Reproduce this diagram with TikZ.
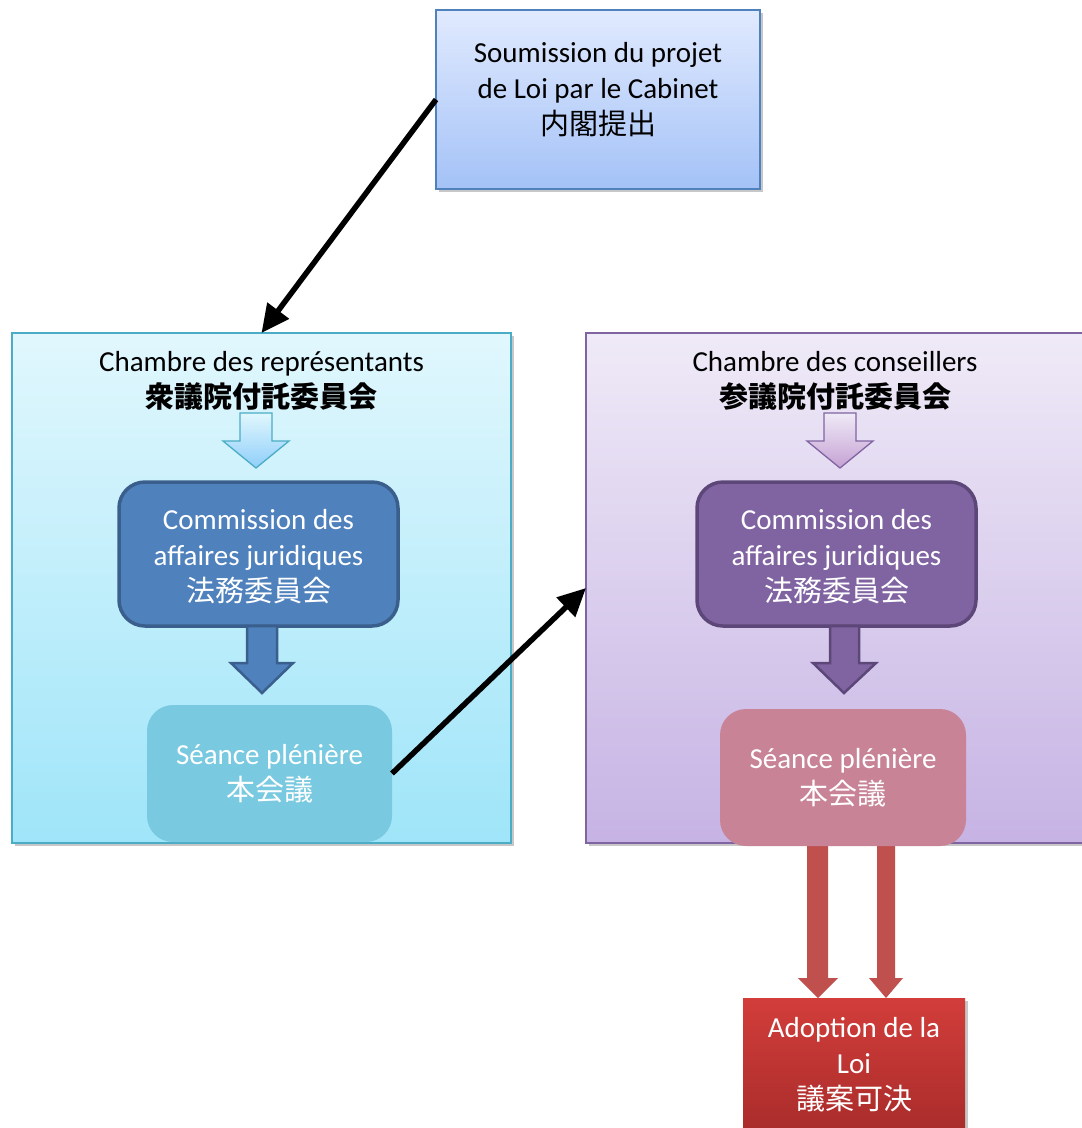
\documentclass[tikz,border=0pt]{standalone}
\usepackage{fontspec}
\setmainfont{Carlito}
\newfontfamily\cjk{Noto Sans CJK JP}
\usetikzlibrary{shadows,arrows.meta}
\definecolor{cabTop}{HTML}{E1EAFE}
\definecolor{cabBot}{HTML}{A4C2F7}
\definecolor{cabLine}{HTML}{4F81BD}
\definecolor{repTop}{HTML}{E1F7FD}
\definecolor{repBot}{HTML}{9FE5F9}
\definecolor{repLine}{HTML}{4BACC6}
\definecolor{conTop}{HTML}{EFEAF7}
\definecolor{conBot}{HTML}{C6B3E4}
\definecolor{conLine}{HTML}{8064A2}
\definecolor{comBlue}{HTML}{4F81BD}
\definecolor{comBlueLine}{HTML}{3A5F8C}
\definecolor{comPurple}{HTML}{8064A2}
\definecolor{comPurpleLine}{HTML}{5D4778}
\definecolor{plenBlue}{HTML}{79C9E0}
\definecolor{plenPink}{HTML}{C88496}
\definecolor{redArrow}{HTML}{C0504D}
\definecolor{adTop}{HTML}{D23D3A}
\definecolor{adBot}{HTML}{A32A29}
\begin{document}
\begin{tikzpicture}[x=1pt,y=-1pt,
  every node/.style={inner sep=0pt,outer sep=0pt},
  txt/.style={align=center,font=\fontsize{29}{36}\selectfont},
  shadowed/.style={drop shadow={shadow xshift=3pt,shadow yshift=-3pt,opacity=0.22,fill=black}},
  cabbox/.style={rectangle,draw=cabLine,line width=1.6pt,top color=cabTop,bottom color=cabBot,shadowed},
  repbox/.style={rectangle,draw=repLine,line width=1.6pt,top color=repTop,bottom color=repBot,shadowed},
  conbox/.style={rectangle,draw=conLine,line width=1.6pt,top color=conTop,bottom color=conBot,shadowed},
  combox/.style={rectangle,rounded corners=26pt,line width=3.5pt},
  plenbox/.style={rectangle,rounded corners=26pt},
  hollowR/.style={draw=repLine,line width=1.3pt,top color=repTop,bottom color=repBot!90!blue},
  hollowC/.style={draw=conLine,line width=1.3pt,top color=conTop,bottom color=conBot!90!purple},
  blk/.style={draw=black,line width=5.5pt,-{Triangle[length=28pt,width=26pt]}},
  redarr/.style={fill=redArrow}
]
\useasboundingbox (0,0) rectangle (1082,1128);
\clip (0,0) rectangle (1082,1128);
\fill[white] (0,0) rectangle (1082,1128);

% cabinet
\node[cabbox,minimum width=324pt,minimum height=179pt] (cabinet) at (598,99.5) {};
\node[txt] (cabtext) at (598,90) {Soumission du projet\\de Loi par le Cabinet\\{\cjk 内閣提出}};

% chambers
\node[repbox,minimum width=499pt,minimum height=510pt] (chamberR) at (261.5,588) {};
\node[conbox,minimum width=520pt,minimum height=510pt] (chamberC) at (846,588) {};
\node[txt] (titleR) at (261.5,381) {Chambre des représentants\\{\cjk\bfseries 衆議院付託委員会}};
\node[txt] (titleC) at (835,381) {Chambre des conseillers\\{\cjk\bfseries 参議院付託委員会}};

% hollow arrows
\path[hollowR] (240,413) -- (272,413) -- (272,441) -- (289,441) -- (256,468) -- (223,441) -- (240,441) -- cycle;
\path[hollowC] (824,413) -- (856,413) -- (856,441) -- (873,441) -- (840,468) -- (807,441) -- (824,441) -- cycle;

% commissions
\node[combox,draw=comBlueLine,fill=comBlue,minimum width=279pt,minimum height=144pt] (comR) at (258.5,554) {};
\node[txt,text=white] (comRtext) at (258.5,557) {Commission des\\affaires juridiques\\{\cjk 法務委員会}};
\node[combox,draw=comPurpleLine,fill=comPurple,minimum width=279pt,minimum height=144pt] (comC) at (836.5,554) {};
\node[txt,text=white] (comCtext) at (836.5,557) {Commission des\\affaires juridiques\\{\cjk 法務委員会}};

% thick down arrows
\path[draw=comBlueLine,fill=comBlue,line width=2.5pt] (247,626) -- (277,626) -- (277,663) -- (293,663) -- (262,693) -- (231,663) -- (247,663) -- cycle;
\path[draw=comPurpleLine,fill=comPurple,line width=2.5pt] (830,626) -- (859,626) -- (859,663) -- (876,663) -- (844,693) -- (813,663) -- (830,663) -- cycle;

% red arrows (behind plenary)
\path[redarr] (807,830) -- (828,830) -- (828,978) -- (838,978) -- (818,998) -- (798,978) -- (807,978) -- cycle;
\path[redarr] (877,830) -- (895,830) -- (895,978) -- (903,978) -- (886,998) -- (869,978) -- (877,978) -- cycle;

% plenary
\node[plenbox,fill=plenBlue,minimum width=245pt,minimum height=137pt] (plenR) at (269.5,773.5) {};
\node[txt,text=white] (plenRtext) at (269.5,774) {Séance plénière\\{\cjk 本会議}};
\node[plenbox,fill=plenPink,minimum width=246pt,minimum height=137pt] (plenC) at (843,777.5) {};
\node[txt,text=white] (plenCtext) at (843,778) {Séance plénière\\{\cjk 本会議}};

% adoption
\node[rectangle,top color=adTop,bottom color=adBot,shadowed,minimum width=222pt,minimum height=152pt] (adopt) at (854,1074) {};
\node[txt,text=white] (adopttext) at (854,1065) {Adoption de la\\Loi\\{\cjk 議案可決}};

% black arrows
\draw[blk] (cabinet.west) -- (chamberR.north);
\draw[blk] (plenR.east) -- (chamberC.west);
\end{tikzpicture}
\end{document}
